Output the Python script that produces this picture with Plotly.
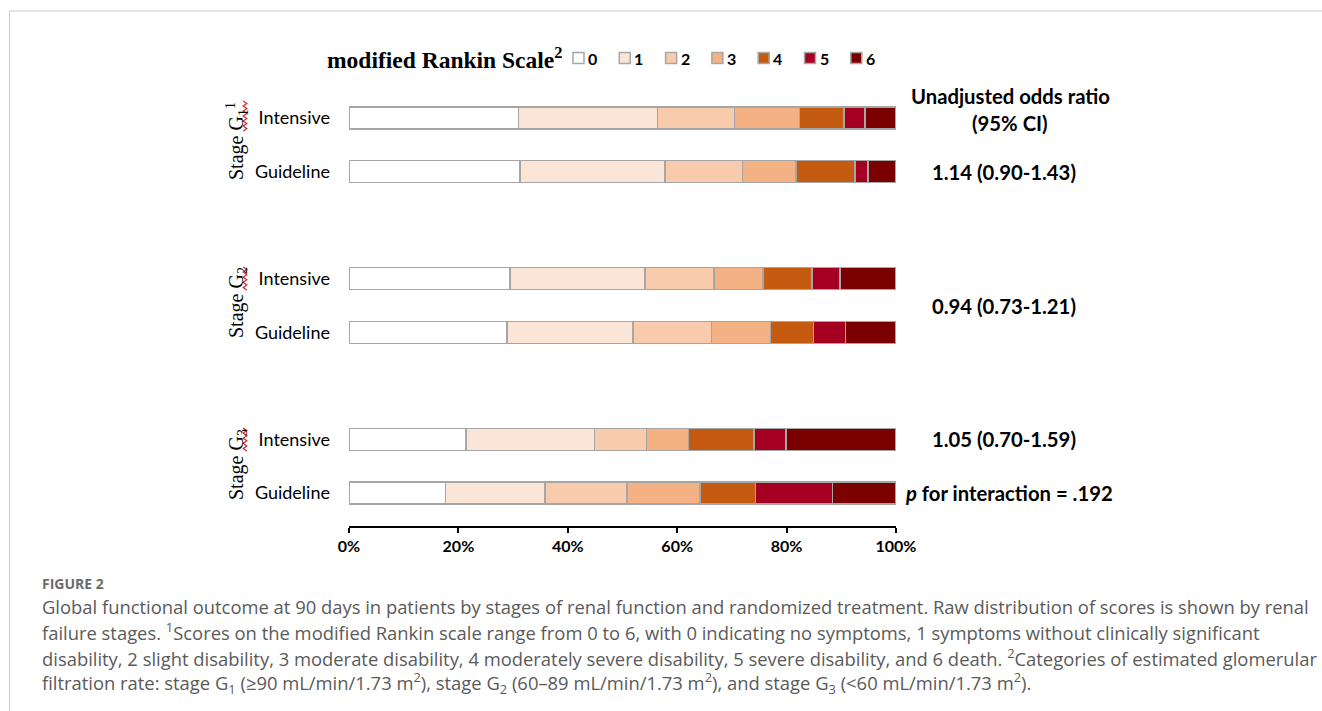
import plotly.graph_objects as go

# ---------------- data ----------------
categories = ["0", "1", "2", "3", "4", "5", "6"]
colors = ["#FFFFFF", "#FBE5D6", "#F8CBAD", "#F4B183", "#C55A11", "#A50021", "#7B0000"]
row_labels = ["Intensive", "Guideline", "Intensive", "Guideline", "Intensive", "Guideline"]
stage_labels = ["Stage G<sub>1</sub><sup>1</sup>", "Stage G<sub>2</sub>", "Stage G<sub>3</sub>"]

g1_intensive = [31.0, 25.4, 14.1, 11.9, 8.1, 3.8, 5.7]
g1_guideline = [31.3, 26.5, 14.1, 9.8, 10.8, 2.4, 5.1]
g2_intensive = [29.4, 24.7, 12.6, 9.0, 8.9, 5.2, 10.2]
g2_guideline = [28.9, 23.0, 14.4, 10.8, 7.8, 5.9, 9.2]
g3_intensive = [21.4, 23.5, 9.5, 7.7, 11.9, 5.9, 20.1]
g3_guideline = [17.6, 18.2, 15.0, 13.4, 10.1, 14.1, 11.6]

odds_ratios = ["1.14 (0.90-1.43)", "0.94 (0.73-1.21)", "1.05 (0.70-1.59)"]
p_interaction = "<i>p</i> for interaction = .192"
x_ticks = [0, 20, 40, 60, 80, 100]

caption_lines = [
    "Global functional outcome at 90 days in patients by stages of renal function and randomized treatment. Raw distribution of scores is shown by renal",
    "failure stages. <sup>1</sup>Scores on the modified Rankin scale range from 0 to 6, with 0 indicating no symptoms, 1 symptoms without clinically significant",
    "disability, 2 slight disability, 3 moderate disability, 4 moderately severe disability, 5 severe disability, and 6 death. <sup>2</sup>Categories of estimated glomerular",
    "filtration rate: stage G<sub>1</sub> (≥90 mL/min/1.73 m<sup>2</sup>), stage G<sub>2</sub> (60–89 mL/min/1.73 m<sup>2</sup>), and stage G<sub>3</sub> (&lt;60 mL/min/1.73 m<sup>2</sup>).",
]

rows = [g1_intensive, g1_guideline, g2_intensive, g2_guideline, g3_intensive, g3_guideline]

# ---------------- layout geometry ----------------
FW, FH = 1322, 711
L, R, T, B = 349, 896, 90, 526


def px(x):
    return (x - L) / (R - L)


def py(y):
    return (B - y) / (B - T)


ypos = [g * 3 + t for g in range(3) for t in range(2)]

fig = go.Figure()
for k, cat in enumerate(categories):
    fig.add_trace(go.Bar(
        x=[r[k] for r in rows],
        y=ypos,
        orientation="h",
        name=cat,
        width=0.41,
        marker=dict(color=colors[k], line=dict(color="#A6A6A6", width=1.5)),
        showlegend=False,
        cliponaxis=False,
        hovertemplate="mRS " + cat + ": %{x:.1f}%<extra></extra>",
    ))

SANS = "Lato"
annotations = []
shapes = []


def ann(x, y, text, font, xanchor="center", yanchor="middle", yref="paper", **kw):
    d = dict(xref="paper", yref=yref, x=x, y=y, text=text, showarrow=False,
             xanchor=xanchor, yanchor=yanchor, font=font)
    d.update(kw)
    annotations.append(d)


# legend (custom)
ann(px(564), py(58), "<b>modified Rankin Scale<sup>2</sup></b>",
    dict(family="Liberation Serif", size=23.5, color="black"), xanchor="right")
for i, cat in enumerate(categories):
    x0 = 573 + i * 46.3
    shapes.append(dict(type="rect", xref="paper", yref="paper",
                       x0=px(x0), x1=px(x0 + 11), y0=py(63.5), y1=py(52.5),
                       fillcolor=colors[i], line=dict(color="#A6A6A6", width=1.5)))
    ann(px(x0 + 13), py(58), "<b>" + cat + "</b>",
        dict(family=SANS, size=16, color="black"), xanchor="left")

# stage labels
stage_centers = [141, 303, 465]
for lab, yc in zip(stage_labels, stage_centers):
    ann(px(237), py(yc), lab, dict(family="Liberation Serif", size=20, color="black"), textangle=-90)

# red squiggles (spell-check marks)
for (y0, y1) in [(101, 131), (267, 290), (428, 451)]:
    n = int((y1 - y0) / 2.5)
    pts = []
    for i in range(n + 1):
        xx = 245 + (1.8 if i % 2 else -1.8)
        yy = y0 + i * (y1 - y0) / n
        pts.append(f"{px(xx)},{py(yy)}")
    shapes.append(dict(type="path", xref="paper", yref="paper",
                       path="M" + " L".join(pts), line=dict(color="#E02020", width=1.2)))

# right-hand texts
RF = dict(family=SANS, size=20.3, color="black")
ann(px(1010), py(96), "<b>Unadjusted odds ratio</b>", RF)
ann(px(1010), py(123), "<b>(95% CI)</b>", RF)
or_rows = [1, 3.5, 6]
for txt, yr in zip(odds_ratios, or_rows):
    ann(px(1004), yr, "<b>" + txt + "</b>", RF, yref="y")
ann(px(1009), 7, "<b>" + p_interaction + "</b>", RF, yref="y")

# caption
ann(px(40), py(583), "<b>FIGURE 2</b>", dict(family="Open Sans", size=14, color="#6b6b6b"), xanchor="left")
for i, line in enumerate(caption_lines):
    ann(px(40), py(606 + i * 25.8), line, dict(family="Open Sans", size=18.4, color="#5a5a5a"),
        xanchor="left")

# frame lines
shapes.append(dict(type="line", xref="paper", yref="paper", x0=px(9.5), x1=px(1322), y0=py(11), y1=py(11),
                   line=dict(color="#CCCCCC", width=1)))
shapes.append(dict(type="line", xref="paper", yref="paper", x0=px(9.5), x1=px(9.5), y0=py(11), y1=py(711),
                   line=dict(color="#CCCCCC", width=1)))

fig.update_layout(
    width=FW, height=FH,
    margin=dict(l=L, r=FW - R, t=T, b=FH - B, pad=0),
    paper_bgcolor="white", plot_bgcolor="white",
    barmode="stack",
    showlegend=False,
    annotations=annotations,
    shapes=shapes,
    xaxis=dict(range=[0, 100], tickvals=x_ticks, ticktext=[f"<b>{v}%</b>" for v in x_ticks],
               showgrid=False, zeroline=False, showline=True, linecolor="black", linewidth=2,
               ticks="outside", ticklen=5, tickwidth=2, tickcolor="black",
               tickfont=dict(family=SANS, size=16, color="black"), fixedrange=True),
    yaxis=dict(range=[7.616, -0.523], tickvals=ypos, ticktext=row_labels,
               showgrid=False, zeroline=False, showline=False, ticks="",
               ticklabelstandoff=18,
               tickfont=dict(family=SANS, size=18, color="black"), fixedrange=True),
)

fig.write_html("out.html")
